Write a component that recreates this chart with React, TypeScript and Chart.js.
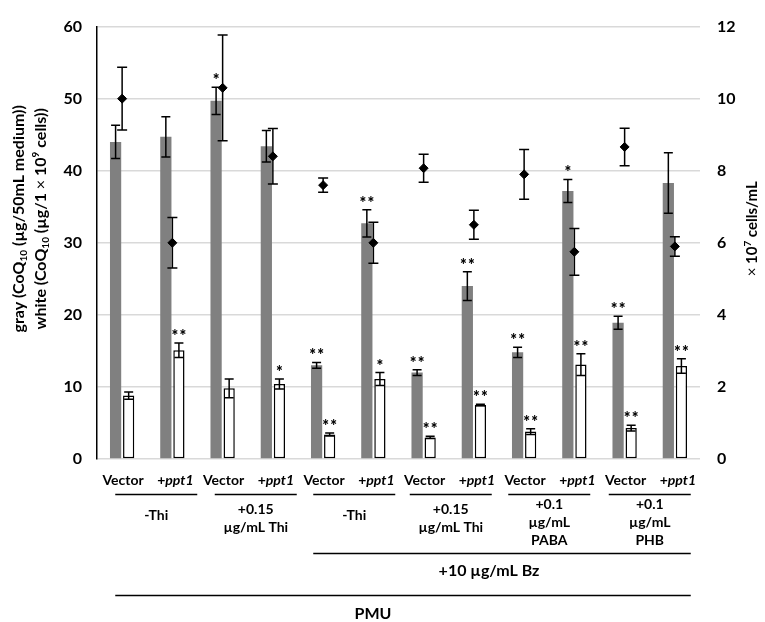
import React, { useEffect, useRef } from 'react';
import { Chart, registerables } from 'chart.js';

Chart.register(...registerables);

const categories = ['Vector', '+ppt1', 'Vector', '+ppt1', 'Vector', '+ppt1', 'Vector', '+ppt1', 'Vector', '+ppt1', 'Vector', '+ppt1'];
const grayValues = [44.0, 44.7, 49.7, 43.4, 13.0, 32.7, 12.0, 24.0, 14.8, 37.2, 18.9, 38.3];
const grayErrors = [2.3, 2.8, 1.9, 2.2, 0.4, 1.9, 0.4, 2.0, 0.7, 1.6, 0.9, 4.2];
const whiteValues = [8.8, 15.1, 9.8, 10.4, 3.4, 11.1, 3.0, 7.5, 3.8, 13.1, 4.3, 12.9];
const whiteErrors = [0.5, 1.0, 1.3, 0.7, 0.2, 0.9, 0.15, 0.1, 0.4, 1.5, 0.4, 1.0];
const cellValues = [10.0, 6.0, 10.3, 8.4, 7.6, 6.0, 8.07, 6.5, 7.9, 5.75, 8.66, 5.9];
const cellErrors = [0.87, 0.7, 1.47, 0.77, 0.2, 0.57, 0.39, 0.4, 0.69, 0.65, 0.52, 0.27];
const graySig = ['', '', '*', '', '**', '**', '**', '**', '**', '*', '**', ''];
const whiteSig = ['', '**', '', '*', '**', '*', '**', '**', '**', '**', '**', '**'];
const conditionLabels = [['-Thi'], ['+0.15', 'µg/mL Thi'], ['-Thi'], ['+0.15', 'µg/mL Thi'], ['+0.1', 'µg/mL', 'PABA'], ['+0.1', 'µg/mL', 'PHB']];
const bzLabel = '+10 µg/mL Bz';
const pmuLabel = 'PMU';
const leftMax = 60;
const leftStep = 10;
const rightMax = 12;
const rightStep = 2;

const FONT = 'Lato, "Open Sans", "Liberation Sans", sans-serif';

type Seg = { t: string; w?: string; i?: boolean; sub?: boolean; sup?: boolean };

function segFont(s: Seg, size: number) {
  const sz = s.sub || s.sup ? Math.round(size * 0.65) : size;
  return `${s.i ? 'italic ' : ''}${s.w || 'bold'} ${sz}px ${FONT}`;
}

function drawRich(ctx: CanvasRenderingContext2D, segs: Seg[], x: number, y: number, size: number) {
  let total = 0;
  for (const s of segs) {
    ctx.font = segFont(s, size);
    total += ctx.measureText(s.t).width;
  }
  let cx = x - total / 2;
  ctx.textAlign = 'left';
  ctx.textBaseline = 'middle';
  for (const s of segs) {
    ctx.font = segFont(s, size);
    const dy = s.sub ? size * 0.28 : s.sup ? -size * 0.3 : 0;
    ctx.fillText(s.t, cx, y + dy);
    cx += ctx.measureText(s.t).width;
  }
}

const annotationPlugin = {
  id: 'annotations',
  afterDatasetsDraw(chart: any) {
    const ctx: CanvasRenderingContext2D = chart.ctx;
    const yL = chart.scales.y;
    const yR = chart.scales.y2;
    const grayMeta = chart.getDatasetMeta(1);
    const whiteMeta = chart.getDatasetMeta(2);
    const cellMeta = chart.getDatasetMeta(0);
    ctx.save();
    ctx.strokeStyle = '#000';
    ctx.fillStyle = '#000';
    ctx.lineWidth = 1.5;
    const errBar = (x: number, top: number, bot: number, cap: number) => {
      ctx.beginPath();
      ctx.moveTo(x, top); ctx.lineTo(x, bot);
      ctx.moveTo(x - cap, top); ctx.lineTo(x + cap, top);
      ctx.moveTo(x - cap, bot); ctx.lineTo(x + cap, bot);
      ctx.stroke();
    };
    const sig = (x: number, yTop: number, mark: string) => {
      if (!mark) return;
      ctx.font = `900 16px ${FONT}`;
      ctx.textAlign = 'center';
      ctx.textBaseline = 'alphabetic';
      if (mark === '**') {
        ctx.fillText('*', x - 4, yTop - 1);
        ctx.fillText('*', x + 4, yTop - 1);
      } else {
        ctx.fillText('*', x, yTop - 1);
      }
    };
    categories.forEach((_, i) => {
      const gx = grayMeta.data[i].x;
      const gt = yL.getPixelForValue(grayValues[i] + grayErrors[i]);
      errBar(gx, gt, yL.getPixelForValue(grayValues[i] - grayErrors[i]), 4.5);
      sig(gx, gt, graySig[i]);
      const wx = whiteMeta.data[i].x;
      const wt = yL.getPixelForValue(whiteValues[i] + whiteErrors[i]);
      errBar(wx, wt, yL.getPixelForValue(whiteValues[i] - whiteErrors[i]), 4.5);
      sig(wx, wt, whiteSig[i]);
      const cx = cellMeta.data[i].x;
      errBar(cx, yR.getPixelForValue(cellValues[i] + cellErrors[i]), yR.getPixelForValue(cellValues[i] - cellErrors[i]), 5);
    });
    ctx.restore();
  },
  afterDraw(chart: any) {
    const ctx: CanvasRenderingContext2D = chart.ctx;
    const xs = chart.scales.x;
    const area = chart.chartArea;
    ctx.save();
    ctx.fillStyle = '#000';
    ctx.strokeStyle = '#000';
    ctx.lineWidth = 1.5;
    // category labels
    categories.forEach((lab, i) => {
      const x = xs.getPixelForValue(i) + (i % 2 === 1 ? 3 : 1);
      if (lab.startsWith('+')) {
        drawRich(ctx, [{ t: '+' }, { t: lab.slice(1), i: true }], x, area.bottom + 21, 14);
      } else {
        drawRich(ctx, [{ t: lab }], x, area.bottom + 21, 14);
      }
    });
    // condition groups
    const shifts = [9, 8, 6, 2, 0, 0];
    const half = 41;
    const lineY = area.bottom + 35.5;
    const groupCenters: number[] = [];
    conditionLabels.forEach((lines, g) => {
      const c = (xs.getPixelForValue(2 * g) + xs.getPixelForValue(2 * g + 1)) / 2 + shifts[g];
      groupCenters.push(c);
      ctx.beginPath();
      ctx.moveTo(c - half, lineY); ctx.lineTo(c + half, lineY);
      ctx.stroke();
      const startY = area.bottom + 56 - (lines.length - 1) * 5.5;
      lines.forEach((t, k) => drawRich(ctx, [{ t }], c, startY + k * 18, 14));
    });
    // Bz bracket
    const bzL = groupCenters[2] - half;
    const bzR = groupCenters[5] + half;
    const bzY = area.bottom + 94.5;
    ctx.beginPath(); ctx.moveTo(bzL, bzY); ctx.lineTo(bzR, bzY); ctx.stroke();
    drawRich(ctx, [{ t: bzLabel }], (bzL + bzR) / 2 - 13, area.bottom + 112, 16);
    // PMU bracket
    const pL = groupCenters[0] - half;
    const pY = area.bottom + 136.5;
    ctx.beginPath(); ctx.moveTo(pL, pY); ctx.lineTo(bzR, pY); ctx.stroke();
    drawRich(ctx, [{ t: pmuLabel }], (pL + bzR) / 2 - 30, area.bottom + 155, 16);
    // left title
    const midY = (area.top + area.bottom) / 2 - 24;
    ctx.save();
    ctx.translate(19, midY);
    ctx.rotate(-Math.PI / 2);
    drawRich(ctx, [{ t: 'gray (CoQ' }, { t: '10', sub: true }, { t: ' (µg/50mL medium))' }], 0, 0, 16);
    ctx.restore();
    ctx.save();
    ctx.translate(41, midY);
    ctx.rotate(-Math.PI / 2);
    drawRich(ctx, [{ t: 'white (CoQ' }, { t: '10', sub: true }, { t: ' (µg/1 ' }, { t: '×', w: 'normal' }, { t: ' 10' }, { t: '9', sup: true }, { t: ' cells))' }], 0, 0, 16);
    ctx.restore();
    // right title
    ctx.save();
    ctx.translate(752, midY + 10);
    ctx.rotate(-Math.PI / 2);
    drawRich(ctx, [{ t: '×', w: 'normal' }, { t: ' 10' }, { t: '7', sup: true }, { t: ' cells/mL' }], 0, 0, 15);
    ctx.restore();
    ctx.restore();
  },
};

export default function App() {
  const ref = useRef<HTMLCanvasElement | null>(null);
  useEffect(() => {
    if (!ref.current) return;
    const tickFont = { family: FONT, size: 16, weight: 'bold' as const };
    const chart = new Chart(ref.current, {
      type: 'bar',
      data: {
        labels: categories,
        datasets: [
          {
            type: 'line' as const,
            label: 'cells',
            data: cellValues,
            yAxisID: 'y2',
            showLine: false,
            pointStyle: 'rectRot',
            pointRadius: 4.5,
            pointBackgroundColor: '#000',
            pointBorderColor: '#000',
            backgroundColor: '#000',
            borderColor: '#000',
            order: 0,
          } as any,
          {
            label: 'gray',
            data: grayValues,
            yAxisID: 'y',
            backgroundColor: '#808080',
            borderWidth: 0,
            categoryPercentage: 0.52,
            barPercentage: 0.86,
            order: 1,
          },
          {
            label: 'white',
            data: whiteValues,
            yAxisID: 'y',
            backgroundColor: '#ffffff',
            borderColor: '#000000',
            borderWidth: 1.5,
            borderSkipped: false,
            categoryPercentage: 0.52,
            barPercentage: 0.86,
            order: 1,
          },
        ],
      },
      options: {
        responsive: false,
        animation: false,
        layout: { padding: { top: 10, left: 0, right: 0, bottom: 0 } },
        plugins: { legend: { display: false }, tooltip: { enabled: false } },
        scales: {
          x: {
            grid: { display: false },
            border: { display: false },
            ticks: { display: false },
            afterFit: (s: any) => { s.height = 163; },
          },
          y: {
            position: 'left',
            min: 0,
            max: leftMax,
            ticks: { stepSize: leftStep, font: tickFont, color: '#000', padding: 15 },
            grid: { color: '#d9d9d9', lineWidth: 1.5, drawTicks: false },
            border: { display: true, color: '#000', width: 1.5 },
            afterFit: (s: any) => { s.width = 97; },
          },
          y2: {
            position: 'right',
            min: 0,
            max: rightMax,
            ticks: { stepSize: rightStep, font: tickFont, color: '#000', padding: 17 },
            grid: { display: false, drawTicks: false },
            border: { display: false },
            afterFit: (s: any) => { s.width = 65; },
          },
        },
      },
      plugins: [annotationPlugin],
    });
    return () => chart.destroy();
  }, []);
  return (
    <canvas
      ref={ref}
      width={765}
      height={622}
      style={{ position: 'absolute', left: 0, top: 0, display: 'block', background: '#fff' }}
    />
  );
}
